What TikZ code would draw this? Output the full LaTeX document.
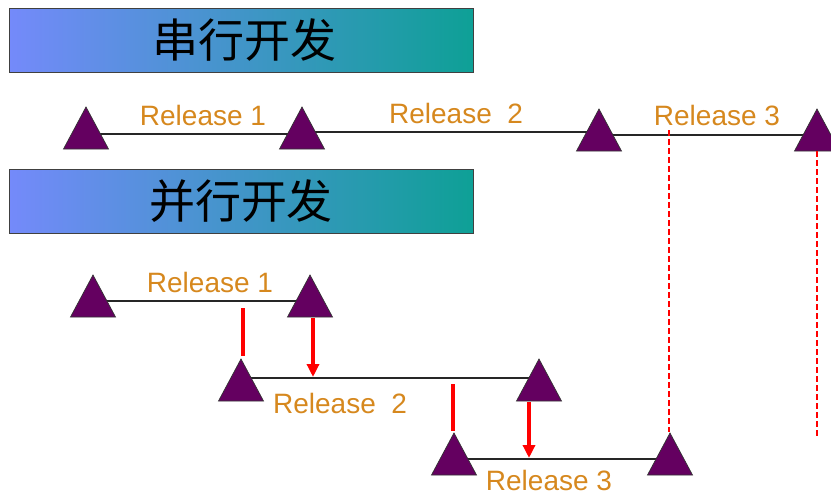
\documentclass[tikz,border=0pt]{standalone}
\usepackage{fontspec}
\setmainfont{Liberation Sans}
\newfontfamily\cjk{Noto Sans CJK SC}
\usetikzlibrary{arrows.meta}
\definecolor{barleft}{RGB}{116,138,250}
\definecolor{barright}{RGB}{14,160,150}
\definecolor{milestonefill}{RGB}{100,0,96}
\definecolor{relorange}{RGB}{214,136,30}
\definecolor{mergered}{RGB}{255,0,0}
\tikzset{
  titlebar/.style={draw=black!75, line width=0.9pt, left color=barleft, right color=barright,
    minimum width=464pt, minimum height=64pt, inner sep=0pt, anchor=north west},
  titletext/.style={font=\cjk\fontsize{46}{50}\selectfont, text=black, inner sep=0pt},
  milestone/.pic={
    \path[fill=milestonefill, draw=black!80, line width=0.7pt]
      (-22.5,0) -- (0,-42) -- (22.5,0) -- cycle;
    \coordinate (-apex) at (0,-42);
  },
  timeline/.style={draw=black!85, line width=1.3pt},
  rel/.style={font=\fontsize{28}{31}\selectfont, text=relorange, inner sep=0pt, anchor=base},
  mergeline/.style={draw=mergered, line width=3.6pt},
  mergearrow/.style={draw=mergered, line width=3.6pt, -{Triangle[width=12pt,length=13pt]}},
  sync/.style={draw=mergered, line width=1.1pt, dash pattern=on 6pt off 3pt},
}
\begin{document}
\begin{tikzpicture}[x=1pt, y=-1pt]
\useasboundingbox (0,0) rectangle (831,498);

% ---- serial development ----
\node[titlebar] (bar1) at (9,8) {};
\node[titletext] (title1) at (244,40) {串行开发};

% milestone base points
\coordinate (s1) at (86,149);
\coordinate (s2) at (302,149);
\coordinate (s3) at (599,151);
\coordinate (s4) at (817,151);

\draw[timeline] ([yshift=15pt]s1) -- ([yshift=15pt]s1 -| s2);
\draw[timeline] ([yshift=17pt]s2) -- ([yshift=17pt]s2 -| s3);
\draw[timeline] ([yshift=16pt]s3) -- ([yshift=16pt]s3 -| s4);

\pic (m1) at (s1) {milestone};
\pic (m2) at (s2) {milestone};
\pic (m3) at (s3) {milestone};
\pic (m4) at (s4) {milestone};

\node[rel] (sl1) at (203,125) {Release 1};
\node[rel] (sl2) at (456,123) {Release\hspace{0.55em}2};
\node[rel] (sl3) at (717,125) {Release 3};

% ---- parallel development ----
\node[titlebar] (bar2) at (9,169) {};
\node[titletext] (title2) at (241,201) {并行开发};

\coordinate (p1) at (93,317);
\coordinate (p2) at (310,317);
\coordinate (p3) at (241,401);
\coordinate (p4) at (539,401);
\coordinate (p5) at (454,475);
\coordinate (p6) at (670,475);

\draw[timeline] ([yshift=16pt]p1) -- ([yshift=16pt]p1 -| p2);
\draw[timeline] ([yshift=23pt]p3) -- ([yshift=23pt]p3 -| p4);
\draw[timeline] ([yshift=16pt]p5) -- ([yshift=16pt]p5 -| p6);

\pic (n1) at (p1) {milestone};
\pic (n2) at (p2) {milestone};
\pic (n3) at (p3) {milestone};
\pic (n4) at (p4) {milestone};
\pic (n5) at (p5) {milestone};
\pic (n6) at (p6) {milestone};

\node[rel] (pl1) at (210,292) {Release 1};
\node[rel] (pl2) at (340,413) {Release\hspace{0.55em}2};
\node[rel] (pl3) at (549,490) {Release 3};

% branch points and merges
\coordinate (b2) at (243,308);
\coordinate (b3) at (453,384);
\coordinate (e2) at (313,377);
\coordinate (e3) at (529,458);
\draw[mergeline] (b2) -- ([yshift=3pt]n3-apex -| b2);
\draw[mergeline] (b3) -- ([yshift=2pt]n5-apex -| b3);
\draw[mergearrow] ([yshift=-1pt]p2 -| e2) -- (e2);
\draw[mergearrow] ([yshift=-1pt]p4 -| e3) -- (e3);

% release 3 alignment guides
\coordinate (g1) at (669,130);
\coordinate (g2) at (817,436);
\draw[sync] (g1) -- ([yshift=1pt]n6-apex -| g1);
\draw[sync] (s4) -- (g2);
\end{tikzpicture}
\end{document}
